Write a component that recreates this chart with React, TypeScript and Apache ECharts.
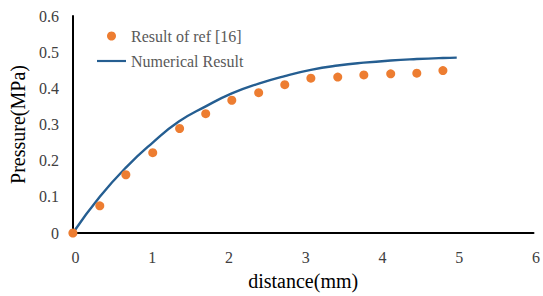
import React, { useEffect, useRef } from "react";
import * as echarts from "echarts";

const refX = [0, 0.35, 0.69, 1.04, 1.39, 1.73, 2.07, 2.42, 2.76, 3.1, 3.45, 3.79, 4.14, 4.48, 4.82];
const refY = [0, 0.075, 0.161, 0.222, 0.289, 0.33, 0.367, 0.388, 0.41, 0.428, 0.431, 0.437, 0.44, 0.442, 0.449];

const numX = [0, 0.35, 0.7, 1.04, 1.38, 1.73, 2.07, 2.42, 2.76, 3.1, 3.45, 3.79, 4.14, 4.48, 4.82, 5.0];
const numY = [0, 0.1, 0.183, 0.25, 0.308, 0.35, 0.386, 0.413, 0.434, 0.451, 0.463, 0.471, 0.477, 0.481, 0.484, 0.485];

const xTicks = [0, 1, 2, 3, 4, 5, 6];
const yTicks = [0, 0.1, 0.2, 0.3, 0.4, 0.5, 0.6];

const FONT = "'Liberation Serif', 'Times New Roman', serif";

export default function App() {
  const ref = useRef<HTMLDivElement>(null);
  useEffect(() => {
    if (!ref.current) return;
    const chart = echarts.init(ref.current, undefined, { renderer: "svg" });
    chart.setOption({
      animation: false,
      textStyle: { fontFamily: FONT },
      grid: { left: 71, right: 6, top: 16, bottom: 56 },
      legend: {
        orient: "vertical",
        left: 92,
        top: 23,
        itemWidth: 29,
        itemHeight: 9,
        itemGap: 9,
        textStyle: { fontFamily: FONT, fontSize: 16, color: "#595959" },
        data: [
          { name: "Result of ref [16]", icon: "circle" },
          { name: "Numerical Result", icon: "path://M0,0H40V3H0Z" },
        ],
      },
      xAxis: {
        type: "value",
        min: xTicks[0],
        max: xTicks[xTicks.length - 1],
        interval: 1,
        name: "distance(mm)",
        nameLocation: "middle",
        nameGap: 38,
        nameTextStyle: { fontFamily: FONT, fontSize: 20, color: "#000" },
        axisLine: { show: true, lineStyle: { color: "#000", width: 2 } },
        axisTick: { show: false },
        splitLine: { show: false },
        axisLabel: {
          fontFamily: FONT,
          fontSize: 16,
          color: "#404040",
          margin: 16,
          padding: [0, 0, 0, 5],
          formatter: (v: number) => String(v),
        },
      },
      yAxis: {
        type: "value",
        min: yTicks[0],
        max: yTicks[yTicks.length - 1],
        interval: 0.1,
        name: "Pressure(MPa)",
        nameLocation: "middle",
        nameGap: 40,
        nameTextStyle: { fontFamily: FONT, fontSize: 20, color: "#000" },
        axisLine: { show: true, lineStyle: { color: "#000", width: 2 } },
        axisTick: { show: false },
        splitLine: { show: false },
        axisLabel: {
          fontFamily: FONT,
          fontSize: 16,
          color: "#404040",
          margin: 14,
          formatter: (v: number) => (v === 0 ? "0" : v.toFixed(1)),
        },
      },
      series: [
        {
          name: "Numerical Result",
          type: "line",
          smooth: true,
          symbol: "none",
          lineStyle: { color: "#255e91", width: 2.4 },
          itemStyle: { color: "#255e91" },
          data: numX.map((x, i) => [x, numY[i]]),
          z: 2,
        },
        {
          name: "Result of ref [16]",
          type: "scatter",
          symbol: "circle",
          symbolSize: 9,
          itemStyle: { color: "#ed7d31", opacity: 1 },
          data: refX.map((x, i) => [x, refY[i]]),
          z: 3,
        },
      ],
    });
    return () => chart.dispose();
  }, []);
  return <div ref={ref} style={{ width: 543, height: 296, position: "absolute", left: 0, top: 0 }} />;
}
